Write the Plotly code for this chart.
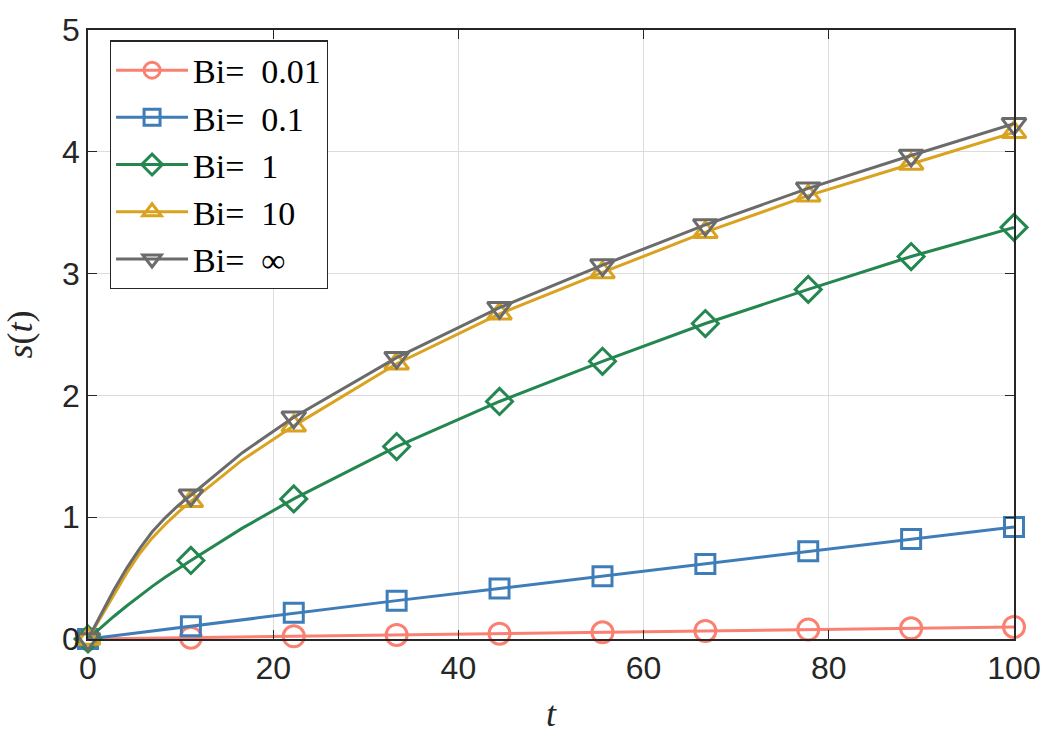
import plotly.graph_objects as go

# Marker sample times and values
t_mark = [0, 11.11, 22.22, 33.33, 44.44, 55.56, 66.67, 77.78, 88.89, 100]
s_001 = [0, 0.011, 0.022, 0.033, 0.044, 0.055, 0.066, 0.077, 0.088, 0.099]
s_01 = [0, 0.105, 0.215, 0.315, 0.415, 0.515, 0.615, 0.72, 0.82, 0.92]
s_1 = [0, 0.645, 1.15, 1.58, 1.95, 2.28, 2.59, 2.87, 3.14, 3.38]
s_10 = [0, 1.13, 1.75, 2.26, 2.67, 3.01, 3.34, 3.64, 3.90, 4.16]
s_inf = [0, 1.18, 1.82, 2.31, 2.72, 3.07, 3.40, 3.70, 3.97, 4.23]

# Extra curve points (steep start)
t_extra = [1.39, 2.78, 4.17, 5.56, 6.94, 8.33, 9.72, 16.67]
s_1_extra = [0.094, 0.185, 0.271, 0.353, 0.432, 0.507, 0.579, 0.91]
s_10_extra = [0.18, 0.37, 0.54, 0.70, 0.83, 0.94, 1.04, 1.47]
s_inf_extra = [0.20, 0.40, 0.58, 0.74, 0.88, 0.995, 1.095, 1.53]

names = ["Bi=\u00a0 0.01", "Bi=\u00a0 0.1", "Bi=\u00a0 1", "Bi=\u00a0 10", "Bi=\u00a0 ∞"]
colors = ["#FA8072", "#3F7DB8", "#23874F", "#D9A21F", "#6B6B6B"]
symbols = ["circle-open", "square-open", "diamond-open", "triangle-up-open", "triangle-down-open"]
sizes = [21, 19, 20, 21, 21]

series = [s_001, s_01, s_1, s_10, s_inf]
extras = [None, None, s_1_extra, s_10_extra, s_inf_extra]

fig = go.Figure()


def merge(tm, sm, te, se):
    if se is None:
        return tm, sm
    pts = sorted(list(zip(tm, sm)) + list(zip(te, se)))
    return [p[0] for p in pts], [p[1] for p in pts]


for name, col, sym, sz, s, e in zip(names, colors, symbols, sizes, series, extras):
    lx, ly = merge(t_mark, s, t_extra, e)
    fig.add_trace(go.Scatter(x=lx, y=ly, mode="lines",
                             line=dict(color=col, width=3, shape="linear"),
                             showlegend=False, hoverinfo="skip"))
    fig.add_trace(go.Scatter(x=t_mark, y=s, mode="markers", cliponaxis=False,
                             marker=dict(symbol=sym, size=sz, color=col,
                                         line=dict(color=col, width=3)),
                             showlegend=False))
    fig.add_trace(go.Scatter(x=[None], y=[None], mode="lines+markers", name=name,
                             line=dict(color=col, width=3),
                             marker=dict(symbol=sym, size=sz, color=col,
                                         line=dict(color=col, width=3))))

axis_common = dict(
    showgrid=True, gridcolor="#DCDCDC", gridwidth=1.3,
    showline=True, linecolor="#262626", linewidth=1.5, mirror="ticks",
    ticks="inside", ticklen=9, tickwidth=1.3, tickcolor="#262626",
    tickfont=dict(family="Liberation Sans, Arial, sans-serif", size=32, color="#262626"),
    zeroline=False,
)

fig.update_layout(
    width=1053, height=742,
    margin=dict(l=88, r=33, t=20, b=103),
    paper_bgcolor="white", plot_bgcolor="white",
    xaxis=dict(range=[0, 100], tickvals=[0, 20, 40, 60, 80, 100],
               title=dict(text="<i>t</i>", standoff=16,
                          font=dict(family="Liberation Serif, serif", size=36, color="#262626")),
               **axis_common),
    yaxis=dict(range=[0, 5], tickvals=[0, 1, 2, 3, 4, 5],
               title=dict(text="<i>s</i>(<i>t</i>)", standoff=18,
                          font=dict(family="Liberation Serif, serif", size=36, color="#262626")),
               **axis_common),
    legend=dict(x=0.0236, y=0.983, xanchor="left", yanchor="top",
                bgcolor="white", bordercolor="#262626", borderwidth=1.2,
                font=dict(family="Liberation Serif, serif", size=34, color="black"),
                itemwidth=72, tracegroupgap=0),
    showlegend=True,
)

fig.write_html("out.html")
